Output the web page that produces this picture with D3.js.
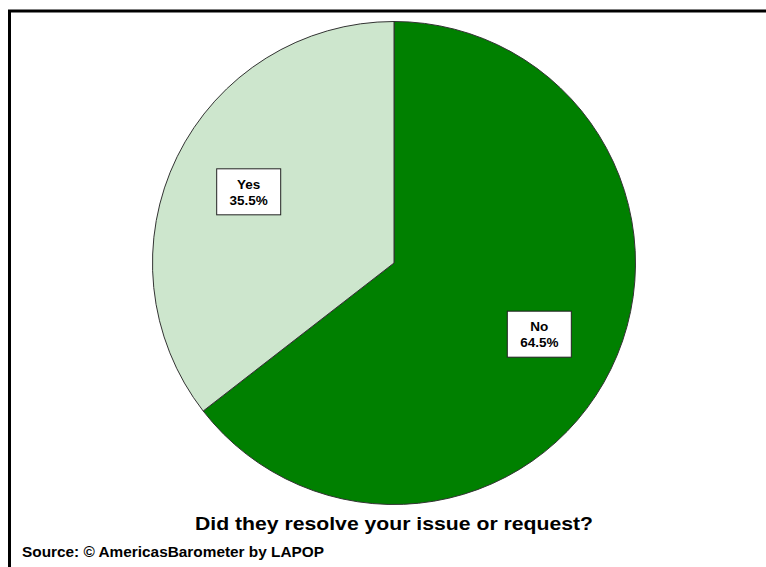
<!DOCTYPE html>
<html><head><meta charset="utf-8">
<script src="https://cdn.jsdelivr.net/npm/d3@7"></script>
<style>body{margin:0;background:#fff}svg{display:block}text{font-family:"Liberation Sans",Arial,sans-serif}</style>
</head><body>
<script>
const categories = ["No", "Yes"];
const values = [64.5, 35.5];
const colors = ["#008000", "#cde6cd"];
const title = "Did they resolve your issue or request?";
const source = "Source: © AmericasBarometer by LAPOP";

const W = 766, H = 567;
const svg = d3.select("body").append("svg").attr("width", W).attr("height", H);
svg.append("rect").attr("x", 9.5).attr("y", 11).attr("width", 900).attr("height", 700)
  .attr("fill", "none").attr("stroke", "#000").attr("stroke-width", 3);

const cx = 394, cy = 263, R = 241.5;
const data = categories.map((c, i) => ({cat: c, v: values[i], col: colors[i]}));
const pie = d3.pie().value(d => d.v).sort(null);
const arc = d3.arc().innerRadius(0).outerRadius(R);
const labelArc = d3.arc().innerRadius(R * 0.67).outerRadius(R * 0.67);
const g = svg.append("g").attr("transform", `translate(${cx},${cy})`);
const arcs = pie(data);
g.selectAll("path").data(arcs).join("path")
  .attr("d", arc).attr("fill", d => d.data.col)
  .attr("stroke", "#333").attr("stroke-width", 1);

const lab = g.selectAll("g.lab").data(arcs).join("g").attr("class", "lab")
  .attr("transform", d => `translate(${labelArc.centroid(d)})`);
lab.append("rect").attr("x", -32).attr("y", -23).attr("width", 64).attr("height", 46)
  .attr("fill", "#fff").attr("stroke", "#222").attr("stroke-width", 1);
lab.append("text").attr("text-anchor", "middle").attr("y", -3)
  .attr("font-size", 13.5).attr("font-weight", "bold").text(d => d.data.cat);
lab.append("text").attr("text-anchor", "middle").attr("y", 13)
  .attr("font-size", 13.5).attr("font-weight", "bold").text(d => d3.format(".1f")(d.data.v) + "%");

svg.append("text").attr("x", 394).attr("y", 530).attr("text-anchor", "middle")
  .attr("font-size", 19).attr("font-weight", "bold")
  .attr("textLength", 398).attr("lengthAdjust", "spacingAndGlyphs").text(title);
svg.append("text").attr("x", 22).attr("y", 557)
  .attr("font-size", 15).attr("font-weight", "bold")
  .attr("textLength", 302).attr("lengthAdjust", "spacingAndGlyphs").text(source);
</script>
</body></html>
